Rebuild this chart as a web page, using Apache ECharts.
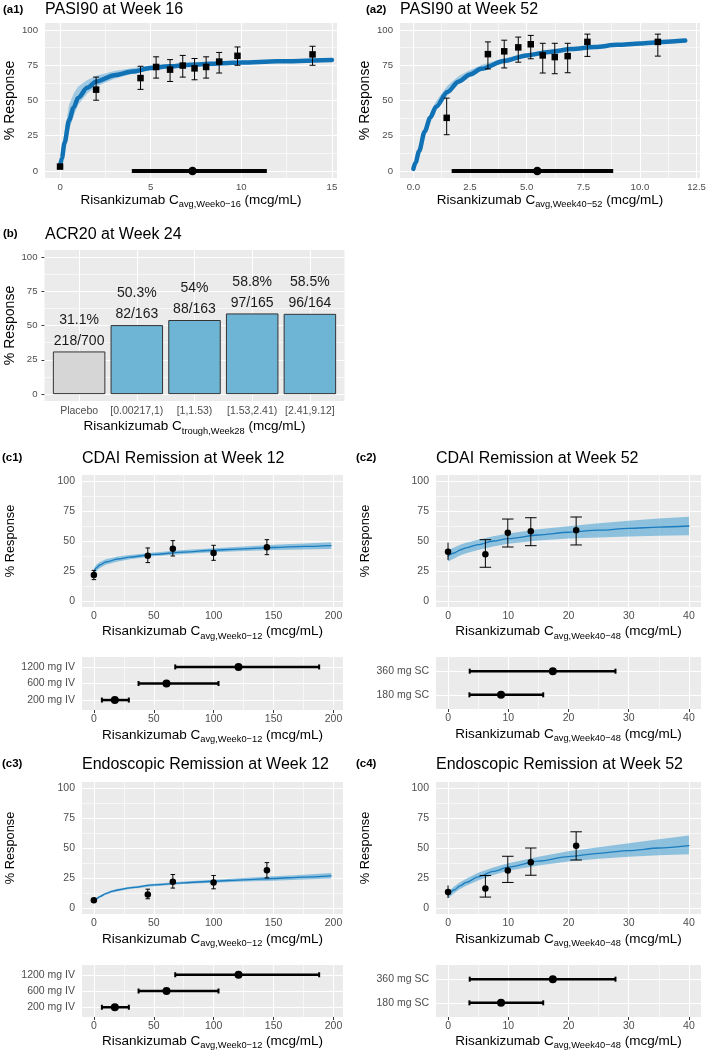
<!DOCTYPE html>
<html><head><meta charset="utf-8">
<script src="https://cdn.jsdelivr.net/npm/echarts@6/dist/echarts.min.js"></script>
<style>html,body{margin:0;padding:0;background:#fff}#c{width:709px;height:1052px}</style>
</head><body><div id="c"></div>
<script>
// ================= DATA =================
// (a1) PASI90 at Week 16
const a1CurveX = [0, 0.1, 0.25, 0.5, 0.75, 1, 1.5, 2, 3, 4, 5, 6, 7.5, 9, 10, 12, 15];
const a1CurveY = [3, 9, 20, 36, 45, 52, 59, 63.5, 68, 70.5, 73, 74.3, 75.5, 76.5, 77, 77.8, 78.8];
const a1BandLo = [2, 6, 14, 29, 39, 47, 55, 60, 65.5, 69, 71.8, 73.2, 74.5, 75.6, 76.1, 76.9, 77.6];
const a1BandHi = [4.5, 14, 28, 47, 55, 60, 64.5, 67.5, 71, 73, 74.8, 75.7, 76.7, 77.6, 78.1, 79, 80.2];
const a1Obs = [[0, 3.1, 3.1, 3.1], [1.99, 57.7, 50.2, 66.6], [4.44, 65.9, 57.9, 74.3], [5.30, 73.8, 65.9, 81.0],
  [6.07, 71.9, 63.5, 79.0], [6.77, 74.8, 66.6, 82.0], [7.42, 72.8, 64.7, 79.8], [8.06, 73.8, 65.9, 81.0],
  [8.78, 77.6, 69.5, 84.1], [9.79, 81.7, 75.0, 88.0], [13.93, 82.7, 75.0, 88.5]];
const a1Exposure = [3.96, 7.31, 11.41]; // low, median, high
const a1XTicks = [0, 5, 10, 15];
const a1XLabels = ['0', '5', '10', '15'];

// (a2) PASI90 at Week 52
const a2CurveX = [0, 0.1, 0.25, 0.5, 0.75, 1, 1.5, 2, 2.5, 3, 4, 5, 6, 7, 8, 9, 10, 11, 12];
const a2CurveY = [1.5, 6, 14, 28, 38, 45.5, 56, 63.5, 68.5, 72.5, 78, 82, 84.5, 86.5, 88, 89.5, 90.5, 91.5, 92.5];
const a2BandLo = [1, 5, 12.5, 25.5, 35.5, 43, 53.5, 61.5, 66.8, 71, 77, 81.2, 83.8, 85.9, 87.5, 89, 90, 91, 91.8];
const a2BandHi = [2, 7, 15.5, 31, 41.5, 49.5, 60.5, 67.3, 71.6, 75.2, 80, 83.6, 85.9, 87.6, 89, 90.4, 91.3, 92.3, 93.2];
const a2Obs = [[1.47, 37.7, 25.7, 51.7], [3.29, 82.9, 72.4, 91.6], [4.01, 84.9, 73.1, 92.8], [4.63, 87.7, 77.2, 95.0],
  [5.18, 89.9, 79.6, 96.2], [5.71, 82.0, 69.5, 90.6], [6.24, 80.8, 69.0, 90.6], [6.81, 81.5, 69.7, 90.6],
  [7.68, 91.6, 81.3, 97.1], [10.79, 91.6, 81.5, 97.1]];
const a2Exposure = [1.69, 5.47, 8.82];
const a2XTicks = [0, 2.5, 5, 7.5, 10, 12.5];
const a2XLabels = ['0.0', '2.5', '5.0', '7.5', '10.0', '12.5'];

// (b) ACR20 at Week 24
const bCats = ['Placebo', '[0.00217,1)', '[1,1.53)', '[1.53,2.41)', '[2.41,9.12]'];
const bPos = [1, 2, 3, 4, 5];
const bPct = [31.1, 50.3, 54, 58.8, 58.5];
const bPctLabels = ['31.1%', '50.3%', '54%', '58.8%', '58.5%'];
const bCounts = ['218/700', '82/163', '88/163', '97/165', '96/164'];

// shared y ticks
const yTicks = [0, 25, 50, 75, 100];
const yLabels = ['0', '25', '50', '75', '100'];
const yMinor = [12.5, 37.5, 62.5, 87.5];

// (c1) CDAI Remission at Week 12
const c1CurveX = [0, 2, 5, 10, 20, 30, 50, 75, 100, 125, 150, 175, 198];
const c1CurveY = [24, 27.5, 30, 32.5, 35, 36.6, 38.8, 40.8, 42.3, 43.5, 44.6, 45.5, 46.2];
const c1BandLo = [21, 24.8, 27.5, 30.3, 33, 34.8, 37.2, 39.2, 40.6, 41.6, 42.4, 43, 43.4];
const c1BandHi = [27, 30.2, 32.5, 34.7, 37, 38.4, 40.4, 42.4, 44, 45.4, 46.8, 48, 49];
const c1Obs = [[0, 21.7, 17.8, 25.5], [45, 37.8, 32, 44.2], [65.9, 43.6, 37.5, 50.3], [99.9, 40, 33.9, 46.4], [144.4, 44.7, 38.6, 51.1]];

// (c2) CDAI Remission at Week 52
const c2CurveX = [0, 1, 2, 3, 5, 7.5, 10, 15, 20, 25, 30, 35, 40];
const c2CurveY = [37.5, 40, 42.5, 44.3, 47, 50, 52, 55, 57.3, 59, 60.5, 61.6, 62.5];
const c2BandLo = [33, 35.5, 38, 39.8, 42.5, 45.5, 47.8, 50.5, 52, 53, 53.8, 54.3, 54.7];
const c2BandHi = [42.5, 44.5, 46.8, 48.5, 51, 54, 56.3, 59.7, 62.3, 64.8, 66.8, 68.7, 70.2];
const c2Placebo = [[0, 41.1, 34.2, 48.6]];
const c2Obs = [[6.2, 38.9, 28.1, 51.1], [9.92, 56.9, 45, 68.3], [13.74, 58.1, 46.1, 69.4], [21.27, 58.9, 46.7, 70]];

// (c3) Endoscopic Remission at Week 12
const c3CurveX = [0, 2, 5, 10, 15, 20, 30, 50, 75, 100, 125, 150, 175, 198];
const c3CurveY = [6, 7.5, 9.5, 12, 13.8, 15, 16.8, 19.2, 21, 22.3, 23.5, 24.6, 25.8, 26.8];
const c3BandLo = [5, 6.5, 8.5, 11, 12.8, 14, 15.8, 18.2, 19.9, 21, 22, 22.8, 23.8, 24.5];
const c3BandHi = [7, 8.5, 10.5, 13, 14.8, 16, 17.8, 20.2, 22.1, 23.6, 25, 26.4, 27.8, 29.1];
const c3Obs = [[0, 6.4, 5, 7.7], [45, 11.3, 7.7, 15.7], [65.9, 21.8, 16.6, 27.9], [99.9, 21.3, 16, 27.1], [144.4, 31.5, 25.1, 37.8]];

// (c4) Endoscopic Remission at Week 52
const c4CurveX = [0, 1, 2, 3, 5, 7.5, 10, 15, 20, 25, 30, 35, 40];
const c4CurveY = [10.5, 15, 18.5, 21.3, 26, 30.5, 34, 39, 42.8, 45.6, 47.8, 50, 52];
const c4BandLo = [8, 12.3, 15.8, 18.6, 23, 27.5, 31, 35.5, 38.8, 41, 42.8, 44, 44.8];
const c4BandHi = [13.5, 18, 21.5, 24.3, 29.3, 33.8, 37.3, 42.8, 47.2, 50.7, 54, 57.3, 60.5];
const c4Placebo = [[0, 13.3, 8.3, 18.8]];
const c4Obs = [[6.2, 16.3, 9.1, 27.1], [9.92, 31.2, 21.3, 43.1], [13.74, 38.1, 27.3, 50], [21.27, 51.9, 40, 63.5]];

// exposure by dose (bottom to top)
const ivDoses = ['200 mg IV', '600 mg IV', '1200 mg IV'];
const ivPos = [1, 2, 3];
const ivLo = [6.7, 37.3, 67.9];
const ivMed = [17.5, 60.6, 120.7];
const ivHi = [29.2, 104, 188];
const scDoses = ['180 mg SC', '360 mg SC'];
const scPos = [1, 2];
const scLo = [3.55, 3.6];
const scMed = [8.8, 17.4];
const scHi = [15.8, 27.8];

const wk12Ticks = [0, 50, 100, 150, 200];
const wk12Labels = ['0', '50', '100', '150', '200'];
const wk12Minor = [25, 75, 125, 175];
const wk52Ticks = [0, 10, 20, 30, 40];
const wk52Labels = ['0', '10', '20', '30', '40'];
const wk52Minor = [5, 15, 25, 35];

// ================= STYLE / HELPERS =================
const FONT = "'Liberation Sans', Arial, Helvetica, sans-serif";
const TICK = '#333333', LAB = '#4D4D4D';

function lab(ticks, labels) {
  return function (v) {
    for (let i = 0; i < ticks.length; i++) if (Math.abs(ticks[i] - v) < 1e-6) return labels[i];
    return '';
  };
}
function xName(sub) { return '{m|Risankizumab C}{s|' + sub + '}{m| (mcg/mL)}'; }
const xNameStyle = { rich: {
  m: { fontSize: 13.5, fontFamily: FONT, color: '#000', lineHeight: 18 },
  s: { fontSize: 9.3, fontFamily: FONT, color: '#000', lineHeight: 11, verticalAlign: 'bottom' } } };

function xVal(gi, min, max, ticks, labels, fs, sub, gap, margin) {
  return { type: 'value', gridIndex: gi, min: min, max: max, position: 'bottom',
    axisLine: { show: false }, splitLine: { show: false }, minorSplitLine: { show: false },
    axisTick: { show: true, customValues: ticks, length: 3, lineStyle: { color: TICK, width: 1 } },
    axisLabel: { customValues: ticks, formatter: lab(ticks, labels), color: LAB, fontSize: fs, fontFamily: FONT, margin: margin || 4 },
    name: xName(sub), nameLocation: 'middle', nameGap: gap, nameTextStyle: xNameStyle };
}
function yVal(gi, fs, gap, nfs) {
  return { type: 'value', gridIndex: gi, min: -5, max: 105,
    axisLine: { show: false }, splitLine: { show: false }, minorSplitLine: { show: false },
    axisTick: { show: true, customValues: yTicks, length: 3, lineStyle: { color: TICK, width: 1 } },
    axisLabel: { customValues: yTicks, formatter: lab(yTicks, yLabels), color: LAB, fontSize: fs, fontFamily: FONT, margin: 7 },
    name: '% Response', nameLocation: 'middle', nameGap: gap,
    nameTextStyle: { fontSize: nfs, fontFamily: FONT, color: '#000' } };
}
function yDose(gi, pos, cats) {
  return { type: 'value', gridIndex: gi, min: 0.4, max: pos.length + 0.6,
    axisLine: { show: false }, splitLine: { show: false }, minorSplitLine: { show: false },
    axisTick: { show: true, customValues: pos, length: 3, lineStyle: { color: TICK, width: 1 } },
    axisLabel: { customValues: pos, formatter: lab(pos, cats), color: LAB, fontSize: 10.5, fontFamily: FONT, margin: 7 } };
}
function gridLines(gi, xMaj, xMin, yMaj, yMin) {
  const d = [];
  const mn = { color: '#ffffff', width: 0.6, type: 'solid' };
  const mj = { color: '#ffffff', width: 1.1, type: 'solid' };
  xMin.forEach(v => d.push({ xAxis: v, lineStyle: mn }));
  yMin.forEach(v => d.push({ yAxis: v, lineStyle: mn }));
  xMaj.forEach(v => d.push({ xAxis: v, lineStyle: mj }));
  yMaj.forEach(v => d.push({ yAxis: v, lineStyle: mj }));
  return { type: 'line', xAxisIndex: gi, yAxisIndex: gi, data: [], silent: true, z: 1, animation: false,
    markLine: { silent: true, z: 1, symbol: ['none', 'none'], label: { show: false }, animation: false,
      emphasis: { disabled: true }, lineStyle: mj, data: d } };
}
function band(gi, X, lo, hi, color) {
  return { type: 'custom', xAxisIndex: gi, yAxisIndex: gi, silent: true, z: 2, clip: true,
    data: X.map((x, i) => [x, lo[i], hi[i]]), encode: { x: 0, y: 1 },
    renderItem: function (params, api) {
      if (params.dataIndex !== 0) return null;
      const pts = [];
      for (let i = 0; i < X.length; i++) pts.push(api.coord([X[i], lo[i]]));
      for (let i = X.length - 1; i >= 0; i--) pts.push(api.coord([X[i], hi[i]]));
      return { type: 'polygon', shape: { points: pts }, style: { fill: color } };
    } };
}
function curve(gi, X, Y, color, w) {
  return { type: 'line', xAxisIndex: gi, yAxisIndex: gi, data: X.map((x, i) => [x, Y[i]]),
    showSymbol: false, smooth: 0.3, smoothMonotone: 'x', silent: true, z: 3,
    lineStyle: { color: color, width: w, cap: 'round' } };
}
function obs(gi, data, shape, cap, size) {
  return { type: 'custom', xAxisIndex: gi, yAxisIndex: gi, data: data, encode: { x: 0, y: 1 }, z: 5, silent: true,
    renderItem: function (params, api) {
      const x = api.value(0), y = api.value(1), lo = api.value(2), hi = api.value(3);
      const p = api.coord([x, y]), a = api.coord([x, lo]), b = api.coord([x, hi]);
      const st = { stroke: '#000', lineWidth: 1 };
      const ch = [{ type: 'line', shape: { x1: a[0], y1: a[1], x2: b[0], y2: b[1] }, style: st }];
      if (cap > 0) {
        ch.push({ type: 'line', shape: { x1: a[0] - cap / 2, y1: a[1], x2: a[0] + cap / 2, y2: a[1] }, style: st });
        ch.push({ type: 'line', shape: { x1: b[0] - cap / 2, y1: b[1], x2: b[0] + cap / 2, y2: b[1] }, style: st });
      }
      if (shape === 'square') ch.push({ type: 'rect', shape: { x: p[0] - size / 2, y: p[1] - size / 2, width: size, height: size }, style: { fill: '#000' } });
      else ch.push({ type: 'circle', shape: { cx: p[0], cy: p[1], r: size / 2 }, style: { fill: '#000' } });
      return { type: 'group', children: ch };
    } };
}
function ranges(gi, data, lw, capH, r) {
  return { type: 'custom', xAxisIndex: gi, yAxisIndex: gi, data: data, encode: { x: 0, y: 1 }, z: 5, silent: true,
    renderItem: function (params, api) {
      const y = api.value(1);
      const a = api.coord([api.value(0), y]), m = api.coord([api.value(2), y]), b = api.coord([api.value(3), y]);
      const st = { stroke: '#000', lineWidth: lw };
      const ch = [{ type: 'line', shape: { x1: a[0], y1: a[1], x2: b[0], y2: b[1] }, style: st }];
      if (capH > 0) {
        ch.push({ type: 'line', shape: { x1: a[0], y1: a[1] - capH / 2, x2: a[0], y2: a[1] + capH / 2 }, style: { stroke: '#000', lineWidth: 2 } });
        ch.push({ type: 'line', shape: { x1: b[0], y1: b[1] - capH / 2, x2: b[0], y2: b[1] + capH / 2 }, style: { stroke: '#000', lineWidth: 2 } });
      }
      ch.push({ type: 'circle', shape: { cx: m[0], cy: m[1], r: r }, style: { fill: '#000' } });
      return { type: 'group', children: ch };
    } };
}

const A_LINE = '#1072B5', A_BAND = 'rgba(110,176,216,0.6)';
const C_LINE = '#1B7CBF', C_BAND = 'rgba(84,166,212,0.62)';
const BG = '#EBEBEB';

const grids = [
  { left: 45, top: 23, width: 292, height: 155 },   // 0 a1
  { left: 400, top: 23, width: 300, height: 155 },  // 1 a2
  { left: 44.5, top: 250, width: 300, height: 151 },  // 2 b
  { left: 82, top: 475, width: 261, height: 132 },  // 3 c1
  { left: 82, top: 657, width: 261, height: 53 },   // 4 c1 dose
  { left: 436, top: 475, width: 265, height: 132 }, // 5 c2
  { left: 436, top: 657, width: 265, height: 52 },  // 6 c2 dose
  { left: 82, top: 782, width: 261, height: 132 },  // 7 c3
  { left: 82, top: 965, width: 261, height: 52 },   // 8 c3 dose
  { left: 436, top: 782, width: 265, height: 132 }, // 9 c4
  { left: 436, top: 965, width: 265, height: 52 }   // 10 c4 dose
].map(g => Object.assign({ show: true, backgroundColor: BG, borderWidth: 0, containLabel: false, outerBoundsMode: 'none' }, g));

const W12 = 'avg,Week0\u221212', W48 = 'avg,Week40\u221248';
const xAxes = [
  xVal(0, -0.83, 15.28, a1XTicks, a1XLabels, 9.6, 'avg,Week0\u221216', 13),
  xVal(1, -0.59, 12.65, a2XTicks, a2XLabels, 9.6, 'avg,Week40\u221252', 13),
  xVal(2, 0.4, 5.6, bPos, bCats, 10.5, 'trough,Week28', 16.5, 5),
  xVal(3, -9.9, 207.9, wk12Ticks, wk12Labels, 10.5, W12, 15.5),
  xVal(4, -9.9, 207.9, wk12Ticks, wk12Labels, 10.5, W12, 16),
  xVal(5, -2, 42, wk52Ticks, wk52Labels, 10.5, W48, 15.5),
  xVal(6, -2, 42, wk52Ticks, wk52Labels, 10.5, W48, 16),
  xVal(7, -9.9, 207.9, wk12Ticks, wk12Labels, 10.5, W12, 16),
  xVal(8, -9.9, 207.9, wk12Ticks, wk12Labels, 10.5, W12, 15),
  xVal(9, -2, 42, wk52Ticks, wk52Labels, 10.5, W48, 16),
  xVal(10, -2, 42, wk52Ticks, wk52Labels, 10.5, W48, 15)
];
const yAxes = [
  yVal(0, 9.6, 27.5, 14), yVal(1, 9.6, 27.5, 14), yVal(2, 9.6, 27.5, 14),
  yVal(3, 10.5, 65.5, 12.8), yDose(4, ivPos, ivDoses),
  yVal(5, 10.5, 64, 12.8), yDose(6, scPos, scDoses),
  yVal(7, 10.5, 65.5, 12.8), yDose(8, ivPos, ivDoses),
  yVal(9, 10.5, 64, 12.8), yDose(10, scPos, scDoses)
];

const ivData = ivDoses.map((d, i) => [ivLo[i], ivPos[i], ivMed[i], ivHi[i]]);
const scData = scDoses.map((d, i) => [scLo[i], scPos[i], scMed[i], scHi[i]]);

const series = [
  // a1
  gridLines(0, a1XTicks, [2.5, 7.5, 12.5], yTicks, yMinor),
  band(0, a1CurveX, a1BandLo, a1BandHi, A_BAND),
  curve(0, a1CurveX, a1CurveY, A_LINE, 4.5),
  obs(0, a1Obs, 'square', 6, 6.5),
  ranges(0, [[a1Exposure[0], 0, a1Exposure[1], a1Exposure[2]]], 4, 0, 4.3),
  // a2
  gridLines(1, a2XTicks, [1.25, 3.75, 6.25, 8.75, 11.25], yTicks, yMinor),
  band(1, a2CurveX, a2BandLo, a2BandHi, A_BAND),
  curve(1, a2CurveX, a2CurveY, A_LINE, 4.5),
  obs(1, a2Obs, 'square', 6, 6.5),
  ranges(1, [[a2Exposure[0], 0, a2Exposure[1], a2Exposure[2]]], 4, 0, 4.3),
  // b
  gridLines(2, bPos, [], yTicks, yMinor),
  { type: 'bar', xAxisIndex: 2, yAxisIndex: 2, barWidth: 52.5, z: 3, silent: true,
    data: bPct.map((v, i) => ({ value: [bPos[i], v], itemStyle: { color: i === 0 ? '#D6D6D6' : '#6DB4D5', borderColor: '#333', borderWidth: 1 } })),
    label: { show: true, position: 'top', distance: 0, color: '#1a1a1a', fontSize: 14, lineHeight: 21, fontFamily: FONT,
      formatter: p => bPctLabels[p.dataIndex] + '\n' + bCounts[p.dataIndex] } },
  // c1
  gridLines(3, wk12Ticks, wk12Minor, yTicks, yMinor),
  band(3, c1CurveX, c1BandLo, c1BandHi, C_BAND),
  curve(3, c1CurveX, c1CurveY, C_LINE, 1.3),
  obs(3, c1Obs, 'circle', 4.5, 6.5),
  gridLines(4, wk12Ticks, wk12Minor, ivPos, []),
  ranges(4, ivData, 2.5, 5, 4),
  // c2
  gridLines(5, wk52Ticks, wk52Minor, yTicks, yMinor),
  band(5, c2CurveX, c2BandLo, c2BandHi, C_BAND),
  curve(5, c2CurveX, c2CurveY, C_LINE, 1.3),
  obs(5, c2Placebo, 'circle', 0, 6.5),
  obs(5, c2Obs, 'circle', 11.5, 6.5),
  gridLines(6, wk52Ticks, wk52Minor, scPos, []),
  ranges(6, scData, 2.5, 5, 4),
  // c3
  gridLines(7, wk12Ticks, wk12Minor, yTicks, yMinor),
  band(7, c3CurveX, c3BandLo, c3BandHi, C_BAND),
  curve(7, c3CurveX, c3CurveY, C_LINE, 1.3),
  obs(7, c3Obs, 'circle', 4.5, 6.5),
  gridLines(8, wk12Ticks, wk12Minor, ivPos, []),
  ranges(8, ivData, 2.5, 5, 4),
  // c4
  gridLines(9, wk52Ticks, wk52Minor, yTicks, yMinor),
  band(9, c4CurveX, c4BandLo, c4BandHi, C_BAND),
  curve(9, c4CurveX, c4CurveY, C_LINE, 1.3),
  obs(9, c4Placebo, 'circle', 0, 6.5),
  obs(9, c4Obs, 'circle', 11.5, 6.5),
  gridLines(10, wk52Ticks, wk52Minor, scPos, []),
  ranges(10, scData, 2.5, 5, 4)
];

function txt(x, y, s, size, bold) {
  return { type: 'text', x: x, y: y, silent: true,
    style: { text: s, fontSize: size, fontFamily: FONT, fontWeight: bold ? 'bold' : 'normal', fill: '#000', align: 'left', verticalAlign: 'middle' } };
}
const graphics = [
  txt(3, 9.5, '(a1)', 11.5, true), txt(45, 9.5, 'PASI90 at Week 16', 16, false),
  txt(366, 9.5, '(a2)', 11.5, true), txt(400, 9.5, 'PASI90 at Week 52', 16, false),
  txt(3, 234, '(b)', 11.5, true), txt(45, 234.5, 'ACR20 at Week 24', 16, false),
  txt(2, 458, '(c1)', 11.5, true), txt(82, 459, 'CDAI Remission at Week 12', 16, false),
  txt(356, 458, '(c2)', 11.5, true), txt(436, 459, 'CDAI Remission at Week 52', 16, false),
  txt(2, 764, '(c3)', 11.5, true), txt(82, 765, 'Endoscopic Remission at Week 12', 16, false),
  txt(356, 764, '(c4)', 11.5, true), txt(436, 765, 'Endoscopic Remission at Week 52', 16, false)
];

const chart = echarts.init(document.getElementById('c'), null, { renderer: 'canvas', width: 709, height: 1052 });
chart.setOption({
  animation: false,
  backgroundColor: '#ffffff',
  textStyle: { fontFamily: FONT },
  grid: grids,
  xAxis: xAxes,
  yAxis: yAxes,
  series: series,
  graphic: graphics
});
</script>
</body></html>
